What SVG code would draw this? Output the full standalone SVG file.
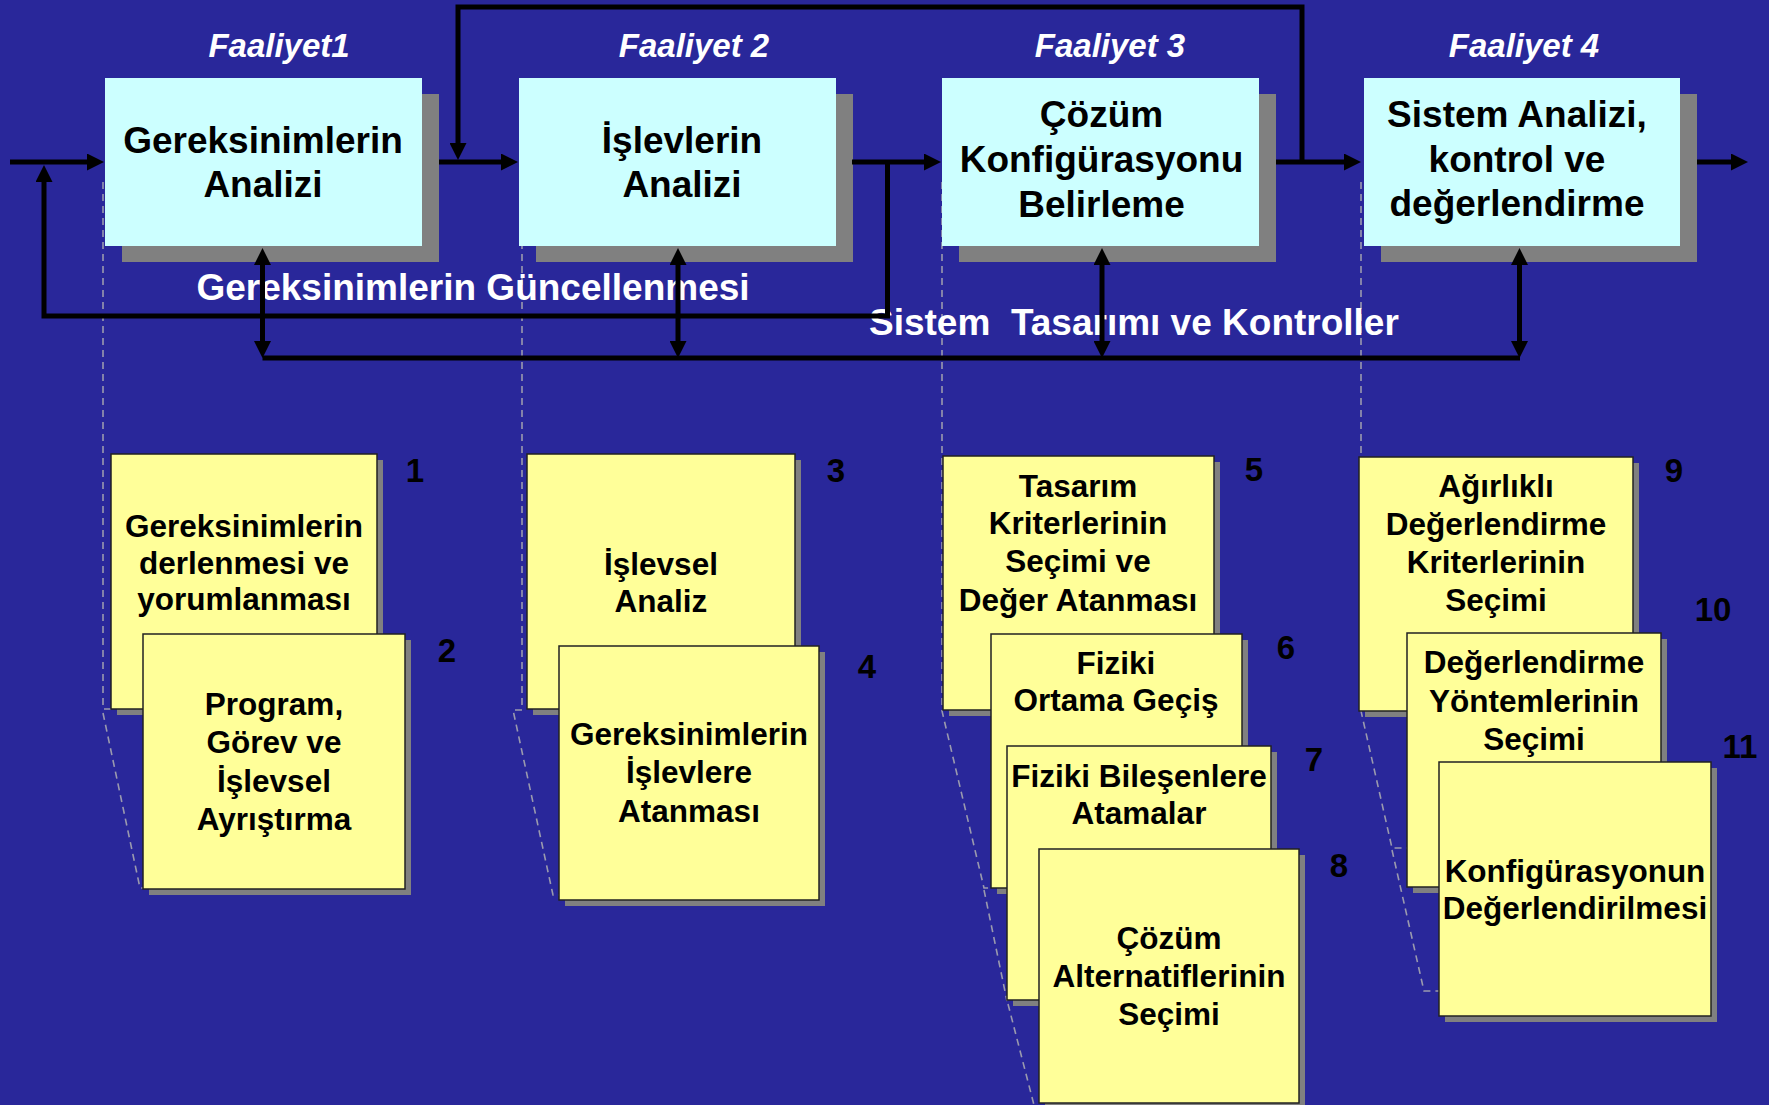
<svg xmlns="http://www.w3.org/2000/svg" width="1769" height="1105" viewBox="0 0 1769 1105">
<style>
.fa{font-family:'Liberation Sans',Arial,sans-serif;font-weight:bold;font-style:italic;font-size:33px;fill:#fff;text-anchor:middle}
.ct{font-family:'Liberation Sans',Arial,sans-serif;font-weight:bold;font-size:37px;fill:#000;text-anchor:middle}
.yt{font-family:'Liberation Sans',Arial,sans-serif;font-weight:bold;font-size:31.5px;fill:#000;text-anchor:middle}
.num{font-family:'Liberation Sans',Arial,sans-serif;font-weight:bold;font-size:33px;fill:#000;text-anchor:middle}
.lbl{font-family:'Liberation Sans',Arial,sans-serif;font-weight:bold;font-size:37px;fill:#fff}
.cyan{fill:#CCFFFF}
.yel{fill:#FFFF99;stroke:#222;stroke-width:1.5}
.sh{fill:#808080}
.dash{fill:none;stroke:#9A9AAE;stroke-width:1.6;stroke-dasharray:7 5}
.ln{fill:none;stroke:#000;stroke-width:5;stroke-linejoin:miter}
.ar{marker-end:url(#ah)}
.bi{marker-start:url(#ah);marker-end:url(#ah)}
</style>
<defs>
<marker id="ah" markerUnits="userSpaceOnUse" markerWidth="17" markerHeight="17" refX="3" refY="8.5" orient="auto-start-reverse">
<path d="M0,0 L17,8.5 L0,17 Z" fill="#000"/>
</marker>
</defs>
<rect x="0" y="0" width="1769" height="1105" fill="#29279A"/>

<g id="guides">
<path class="dash" d="M103,182 V709 H111 M103,713 L140,888 H143"/>
<path class="dash" d="M522,182 V710 H513 L553,895 H559"/>
<path class="dash" d="M942,182 V711 L984,888 H991 M984,890 L1007,1001 H1007 M1008,1004 L1034,1105"/>
<path class="dash" d="M1361,182 V711 L1392,848 H1407 M1392,850 L1424,991 H1439"/>
</g>

<g id="faaliyet-labels">
<text class="fa" x="279" y="57">Faaliyet1</text>
<text class="fa" x="694" y="57">Faaliyet 2</text>
<text class="fa" x="1110" y="57">Faaliyet 3</text>
<text class="fa" x="1524" y="57">Faaliyet 4</text>
</g>

<g id="a1">
<rect class="sh" x="122" y="94" width="317" height="168"/>
<rect class="cyan" x="105" y="78" width="317" height="168"/>
<text class="ct" x="263" y="153">Gereksinimlerin</text>
<text class="ct" x="263" y="197">Analizi</text>
</g>
<g id="a2">
<rect class="sh" x="536" y="94" width="317" height="168"/>
<rect class="cyan" x="519" y="78" width="317" height="168"/>
<text class="ct" x="682" y="153">İşlevlerin</text>
<text class="ct" x="682" y="197">Analizi</text>
</g>
<g id="a3">
<rect class="sh" x="959" y="94" width="317" height="168"/>
<rect class="cyan" x="942" y="78" width="317" height="168"/>
<text class="ct" x="1101.5" y="127">Çözüm</text>
<text class="ct" x="1101.5" y="172">Konfigürasyonu</text>
<text class="ct" x="1101.5" y="217">Belirleme</text>
</g>
<g id="a4">
<rect class="sh" x="1381" y="94" width="316" height="168"/>
<rect class="cyan" x="1364" y="78" width="316" height="168"/>
<text class="ct" x="1517" y="127">Sistem Analizi,</text>
<text class="ct" x="1517" y="172">kontrol ve</text>
<text class="ct" x="1517" y="216">değerlendirme</text>
</g>

<g id="flow-labels">
<text class="lbl" x="473" y="300" text-anchor="middle">Gereksinimlerin Güncellenmesi</text>
<text class="lbl" x="869" y="335" xml:space="preserve" style="white-space:pre">Sistem  Tasarımı ve Kontroller</text>
</g>

<g id="connectors">
<path class="ln ar" d="M10,162 H90"/>
<path class="ln ar" d="M439,162 H504"/>
<path class="ln ar" d="M852,162 H927"/>
<path class="ln ar" d="M1276,162 H1347"/>
<path class="ln ar" d="M1697,162 H1734"/>
<path class="ln ar" d="M887.5,162 V316 H44 V179"/>
<path class="ln ar" d="M1302,162 V7 H458 V146"/>
<path class="ln" d="M262.5,358 H1520"/>
<path class="ln bi" d="M262.5,262 V344"/>
<path class="ln bi" d="M678,262 V344"/>
<path class="ln bi" d="M1102,262 V344"/>
<path class="ln bi" d="M1519.5,262 V344"/>
</g>

<g id="s1">
<rect class="sh" x="117" y="460" width="266" height="255"/>
<rect class="yel" x="111" y="454" width="266" height="255"/>
<text class="yt" x="244" y="537">Gereksinimlerin</text>
<text class="yt" x="244" y="574">derlenmesi ve</text>
<text class="yt" x="244" y="610">yorumlanması</text>
<text class="num" x="415" y="482">1</text>
</g>
<g id="s2">
<rect class="sh" x="149" y="640" width="262" height="255"/>
<rect class="yel" x="143" y="634" width="262" height="255"/>
<text class="yt" x="274" y="715">Program,</text>
<text class="yt" x="274" y="753">Görev ve</text>
<text class="yt" x="274" y="792">İşlevsel</text>
<text class="yt" x="274" y="830">Ayrıştırma</text>
<text class="num" x="447" y="662">2</text>
</g>
<g id="s3">
<rect class="sh" x="533" y="460" width="268" height="255"/>
<rect class="yel" x="527" y="454" width="268" height="255"/>
<text class="yt" x="661" y="575">İşlevsel</text>
<text class="yt" x="661" y="612">Analiz</text>
<text class="num" x="836" y="482">3</text>
</g>
<g id="s4">
<rect class="sh" x="565" y="652" width="260" height="254"/>
<rect class="yel" x="559" y="646" width="260" height="254"/>
<text class="yt" x="689" y="745">Gereksinimlerin</text>
<text class="yt" x="689" y="783">İşlevlere</text>
<text class="yt" x="689" y="822">Atanması</text>
<text class="num" x="867" y="678">4</text>
</g>
<g id="s5">
<rect class="sh" x="949" y="462" width="271" height="254"/>
<rect class="yel" x="943" y="456" width="271" height="254"/>
<text class="yt" x="1078" y="497">Tasarım</text>
<text class="yt" x="1078" y="534">Kriterlerinin</text>
<text class="yt" x="1078" y="572">Seçimi ve</text>
<text class="yt" x="1078" y="611">Değer Atanması</text>
<text class="num" x="1254" y="481">5</text>
</g>
<g id="s6">
<rect class="sh" x="997" y="640" width="251" height="254"/>
<rect class="yel" x="991" y="634" width="251" height="254"/>
<text class="yt" x="1116" y="674">Fiziki</text>
<text class="yt" x="1116" y="711">Ortama Geçiş</text>
<text class="num" x="1286" y="659">6</text>
</g>
<g id="s7">
<rect class="sh" x="1013" y="752" width="264" height="254"/>
<rect class="yel" x="1007" y="746" width="264" height="254"/>
<text class="yt" x="1139" y="787">Fiziki Bileşenlere</text>
<text class="yt" x="1139" y="824">Atamalar</text>
<text class="num" x="1314" y="771">7</text>
</g>
<g id="s8">
<rect class="sh" x="1045" y="855" width="260" height="254"/>
<rect class="yel" x="1039" y="849" width="260" height="254"/>
<text class="yt" x="1169" y="949">Çözüm</text>
<text class="yt" x="1169" y="987">Alternatiflerinin</text>
<text class="yt" x="1169" y="1025">Seçimi</text>
<text class="num" x="1339" y="877">8</text>
</g>
<g id="s9">
<rect class="sh" x="1365" y="463" width="274" height="254"/>
<rect class="yel" x="1359" y="457" width="274" height="254"/>
<text class="yt" x="1496" y="497">Ağırlıklı</text>
<text class="yt" x="1496" y="535">Değerlendirme</text>
<text class="yt" x="1496" y="573">Kriterlerinin</text>
<text class="yt" x="1496" y="611">Seçimi</text>
<text class="num" x="1674" y="482">9</text>
</g>
<g id="s10">
<rect class="sh" x="1413" y="639" width="254" height="254"/>
<rect class="yel" x="1407" y="633" width="254" height="254"/>
<text class="yt" x="1534" y="673">Değerlendirme</text>
<text class="yt" x="1534" y="712">Yöntemlerinin</text>
<text class="yt" x="1534" y="750">Seçimi</text>
<text class="num" x="1713" y="621">10</text>
</g>
<g id="s11">
<rect class="sh" x="1445" y="768" width="272" height="254"/>
<rect class="yel" x="1439" y="762" width="272" height="254"/>
<text class="yt" x="1575" y="882">Konfigürasyonun</text>
<text class="yt" x="1575" y="919">Değerlendirilmesi</text>
<text class="num" x="1740" y="758">11</text>
</g>
</svg>
